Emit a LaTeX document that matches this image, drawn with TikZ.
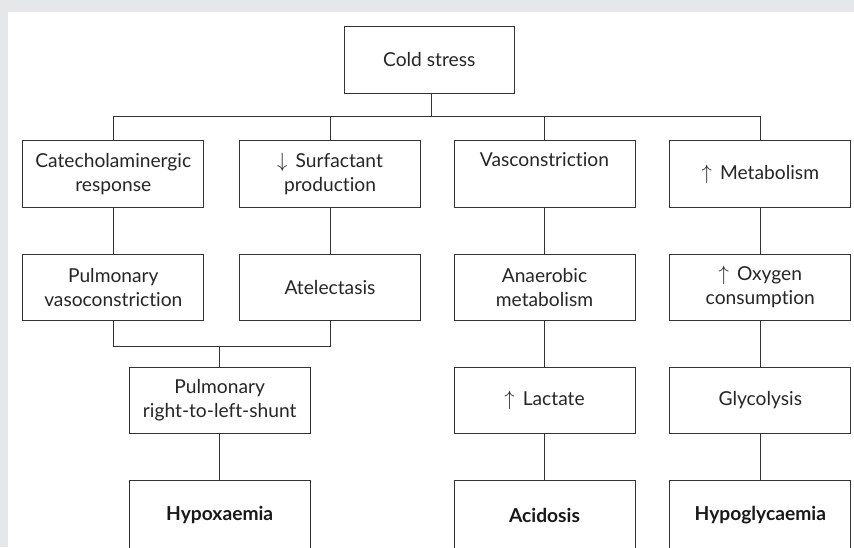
\documentclass[tikz,border=0pt]{standalone}
\usepackage{fontspec}
\setmainfont{Lato}[Ligatures=NoCommon]
\definecolor{bgray}{RGB}{230,231,233}
\begin{document}
\begin{tikzpicture}[x=1pt,y=-1pt,
  box/.style={draw=black!80,line width=0.9pt,fill=white,minimum width=181pt,minimum height=66.7pt,
    align=center,inner sep=0pt,font=\fontsize{19.2}{24}\selectfont\color{black!85}},
  endbox/.style={box,minimum height=70pt,font=\fontsize{19.2}{24}\selectfont\bfseries\color{black!90}},
  conn/.style={draw=black!80,line width=0.9pt}]
\useasboundingbox (0,0) rectangle (854,547);
\clip (0,0) rectangle (854,547);
\fill[bgray] (0,0) rectangle (854,547);
\fill[white] (8,12) rectangle (854,547);
% nodes
\node[box,minimum width=170pt] (cold) at (429.3,60) {Cold stress};
\node[box] (cat) at (113.3,174) {Catecholaminergic\\response};
\node[box] (sur) at (330,174) {$\downarrow$\, Surfactant\\production};
\node[box] (vas) at (544.5,174) {\strut Vasconstriction\\\strut};
\node[box] (met) at (760.3,174) {$\uparrow$\, Metabolism};
\node[box] (pv) at (113.3,287.3) {Pulmonary\\vasoconstriction};
\node[box] (ate) at (330,287.3) {Atelectasis};
\node[box] (ana) at (544.5,287.3) {Anaerobic\\metabolism};
\node[box] (oxy) at (760.3,287.3) {$\uparrow$\, Oxygen\\consumption};
\node[box] (shu) at (219.7,400.5) {Pulmonary\\right-to-left-shunt};
\node[box] (lac) at (544.5,400.5) {$\uparrow$\, Lactate};
\node[box] (gly) at (760.3,400.5) {Glycolysis};
\node[endbox] (hyp) at (219.7,515) {Hypoxaemia};
\node[endbox] (aci) at (544.5,515) {Acidosis};
\node[endbox] (hgl) at (760.3,515) {Hypoglycaemia};
\coordinate (bus) at (431,116.7);
\coordinate (mrg) at (219.7,346.7);
% connectors
\draw[conn] (cold.south -| bus) -- (bus);
\draw[conn] (cat.north) -- (cat.north |- bus) -- (met.north |- bus) -- (met.north);
\draw[conn] (sur.north) -- (sur.north |- bus);
\draw[conn] (vas.north) -- (vas.north |- bus);
\draw[conn] (cat) -- (pv);
\draw[conn] (sur) -- (ate);
\draw[conn] (vas) -- (ana);
\draw[conn] (met) -- (oxy);
\draw[conn] (pv.south) -- (pv.south |- mrg) -- (ate.south |- mrg) -- (ate.south);
\draw[conn] (mrg) -- (shu.north);
\draw[conn] (shu) -- (hyp);
\draw[conn] (ana) -- (lac);
\draw[conn] (lac) -- (aci);
\draw[conn] (oxy) -- (gly);
\draw[conn] (gly) -- (hgl);
\end{tikzpicture}
\end{document}
